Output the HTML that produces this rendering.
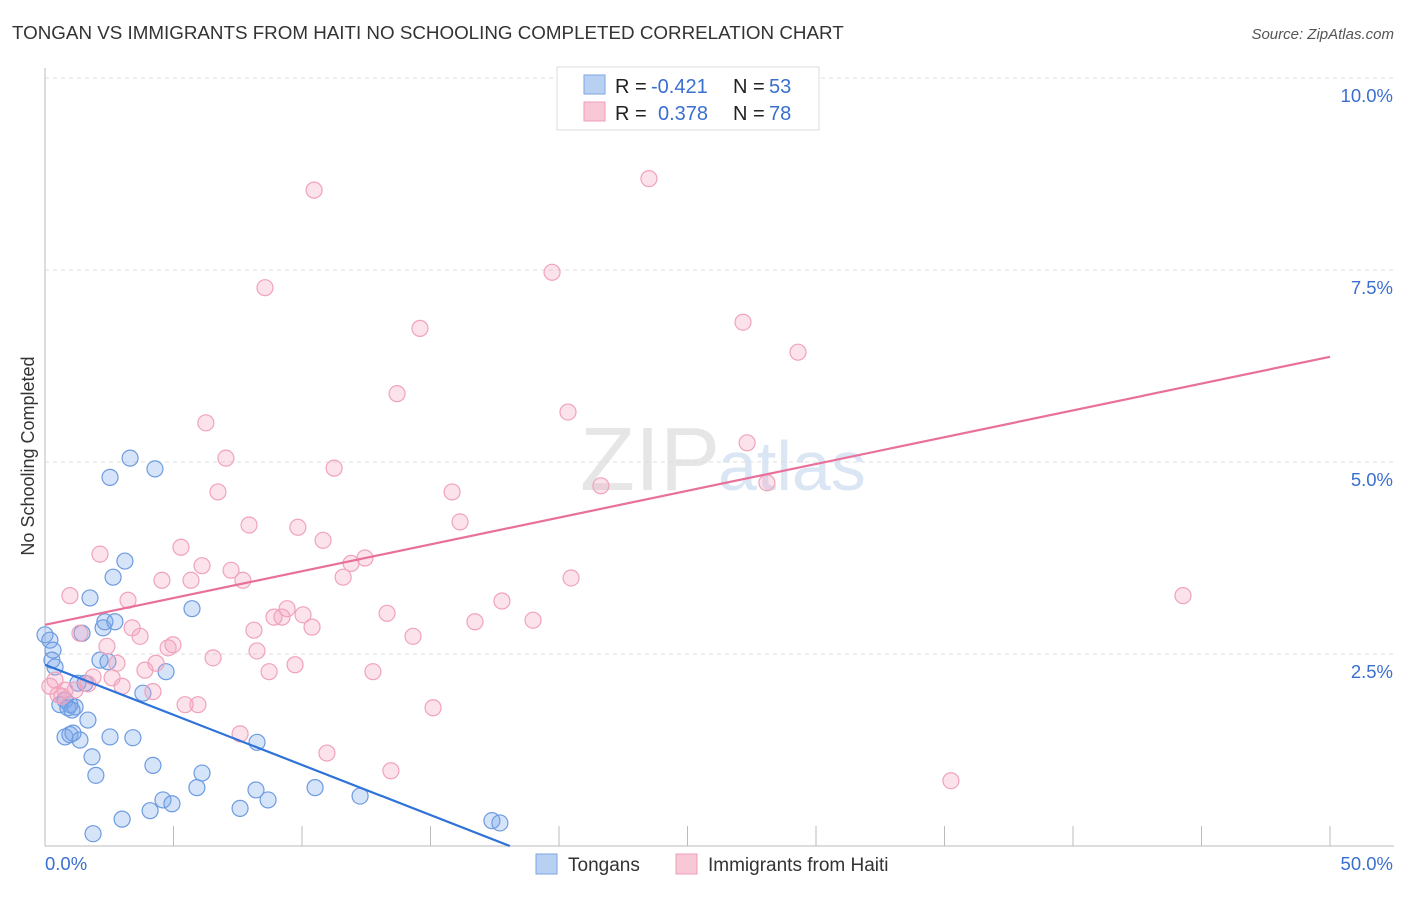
<!DOCTYPE html>
<html><head><meta charset="utf-8"><style>
body{margin:0;background:#fff;font-family:"Liberation Sans",sans-serif;}
svg text{font-family:"Liberation Sans",sans-serif;}
</style></head><body>
<svg width="1406" height="892">
<text x="12" y="39" font-size="18.8" fill="#333">TONGAN VS IMMIGRANTS FROM HAITI NO SCHOOLING COMPLETED CORRELATION CHART</text>
<text x="1394" y="39" font-size="15" fill="#555" text-anchor="end" font-style="italic">Source: ZipAtlas.com</text>
<text x="720" y="490" font-size="90" fill="#e6e6e6" text-anchor="end" font-family="Liberation Serif">ZIP</text>
<text x="718" y="490" font-size="70" fill="#dbe6f5">atlas</text>
<g id="grid"></g>
<g id="axes"></g>
<text transform="translate(34,456) rotate(-90)" font-size="18" fill="#333" text-anchor="middle">No Schooling Completed</text>
<g id="marks"></g>
<g>
<rect x="557" y="67" width="262" height="63" fill="#fff" stroke="#ddd"/>
<rect x="584" y="75" width="21" height="19" fill="#b8d0f2" stroke="#7ea6e2"/>
<rect x="584" y="102" width="21" height="19" fill="#f8c8d6" stroke="#ef9db6"/>
<text x="615" y="93" font-size="20" fill="#222">R =</text>
<text x="651" y="93" font-size="20" fill="#3a6fd0">-0.421</text>
<text x="733" y="93" font-size="20" fill="#222">N =</text>
<text x="769" y="93" font-size="20" fill="#3a6fd0">53</text>
<text x="615" y="120" font-size="20" fill="#222">R =</text>
<text x="658" y="120" font-size="20" fill="#3a6fd0">0.378</text>
<text x="733" y="120" font-size="20" fill="#222">N =</text>
<text x="769" y="120" font-size="20" fill="#3a6fd0">78</text>
</g>
<g>
<rect x="536" y="854" width="21" height="20" fill="#b8d0f2" stroke="#7ea6e2"/>
<text x="568" y="871" font-size="19" fill="#333">Tongans</text>
<rect x="676" y="854" width="21" height="20" fill="#f8c8d6" stroke="#ef9db6"/>
<text x="708" y="871" font-size="19" fill="#333">Immigrants from Haiti</text>
</g>
</svg>
<script>
const yTicks=[2.5,5.0,7.5,10.0];
const yTickLabels=["2.5%","5.0%","7.5%","10.0%"];
const xTickCount=10;
const blueX=[0,0.19,0.31,0.27,0.39,0.58,0.78,0.97,0.89,1.17,1.05,1.28,1.56,1.67,0.78,0.97,1.36,1.83,1.98,1.75,2.14,2.26,2.33,2.45,2.72,2.65,3.11,2.53,3.31,4.28,2.53,3.42,3.81,4.20,4.71,5.72,4.59,4.94,5.91,6.11,7.59,8.25,8.21,8.68,10.51,12.26,1.87,3.00,4.09,17.39,17.70,1.44,1.09];
const blueY=[2.75,2.68,2.55,2.42,2.33,1.84,1.90,1.84,1.80,1.81,1.77,2.12,2.12,1.64,1.42,1.45,1.38,1.16,0.92,3.23,2.42,2.84,2.92,2.40,2.92,3.50,3.71,4.80,5.05,4.91,1.42,1.41,1.99,1.05,2.27,3.09,0.60,0.55,0.76,0.95,0.49,1.35,0.73,0.60,0.76,0.65,0.16,0.35,0.46,0.33,0.30,2.77,1.47];
const pinkX=[10.47,23.50,8.56,19.73,14.59,27.16,29.30,13.70,20.35,6.26,27.32,7.04,11.25,6.73,21.63,15.84,28.09,16.15,7.94,9.84,10.82,5.29,2.14,12.45,11.91,11.60,20.47,6.11,7.24,4.55,5.68,7.70,44.28,0.97,3.23,9.42,10.04,8.91,9.22,13.31,17.78,18.99,16.73,10.39,3.39,8.13,14.32,1.36,3.70,4.98,2.41,4.79,8.25,6.54,9.73,4.32,2.80,3.89,8.72,12.76,1.87,0.39,0.19,2.61,3.00,1.67,4.20,0.78,0.66,5.45,5.95,15.10,7.59,10.97,13.46,35.25,0.51,1.17];
const pinkY=[8.54,8.69,7.27,7.47,6.74,6.82,6.43,5.89,5.65,5.51,5.25,5.05,4.92,4.61,4.69,4.61,4.73,4.22,4.18,4.15,3.98,3.89,3.80,3.75,3.68,3.50,3.49,3.65,3.59,3.46,3.46,3.46,3.26,3.26,3.20,3.09,3.01,2.98,2.98,3.03,3.19,2.94,2.92,2.85,2.84,2.81,2.73,2.77,2.73,2.62,2.60,2.58,2.54,2.45,2.36,2.38,2.38,2.29,2.27,2.27,2.20,2.16,2.08,2.19,2.08,2.11,2.01,2.03,1.95,1.84,1.84,1.80,1.46,1.21,0.98,0.85,1.97,2.03];
const blueLine=[[0,2.36],[18.09,0]];
const pinkLine=[[0,2.88],[50,6.37]];
const NS="http://www.w3.org/2000/svg";
const sx=v=>45+v/50*1285;
const sy=v=>846-v/2.5*192;
function mk(tag,parent,attrs){const e=document.createElementNS(NS,tag);for(const k in attrs)e.setAttribute(k,attrs[k]);document.getElementById(parent).appendChild(e);return e;}
yTicks.forEach((t,i)=>{
 const g=mk('line','grid',{x1:45,x2:1394,y1:sy(t),y2:sy(t),stroke:'#ddd','stroke-dasharray':'4,4'});
 
 
 const l=mk('text','axes',{x:1393,y:sy(t)+24,'font-size':18.5,fill:'#3a6fd0','text-anchor':'end'});
 l.textContent=yTickLabels[i];
 
 
});
const ya=mk('line','axes',{x1:45,x2:45,y1:68,y2:846,stroke:'#bbb'});


const xa=mk('line','axes',{x1:45,x2:1394,y1:846,y2:846,stroke:'#bbb'});


for(let i=0;i<=xTickCount;i++){
 const t=mk('line','axes',{x1:sx(i*5),x2:sx(i*5),y1:826,y2:846,stroke:'#bbb'});
 
 
}
const x0=mk('text','axes',{x:45,y:870,'font-size':18.5,fill:'#3a6fd0'});x0.textContent='0.0%';


const x1=mk('text','axes',{x:1393,y:870,'font-size':18.5,fill:'#3a6fd0','text-anchor':'end'});x1.textContent='50.0%';


blueX.forEach((v,i)=>{
 const c=mk('circle','marks',{cx:sx(v),cy:sy(blueY[i]),r:8,fill:'rgba(120,165,235,0.3)',stroke:'#6d9be0','stroke-width':1.2});
 
 
});
pinkX.forEach((v,i)=>{
 const c=mk('circle','marks',{cx:sx(v),cy:sy(pinkY[i]),r:8,fill:'rgba(245,160,190,0.3)',stroke:'#f0a3bb','stroke-width':1.2});
 
 
});
const bl=mk('line','marks',{x1:sx(blueLine[0][0]),y1:sy(blueLine[0][1]),x2:sx(blueLine[1][0]),y2:sy(blueLine[1][1]),stroke:'#2f72d8','stroke-width':2.2});


const pl=mk('line','marks',{x1:sx(pinkLine[0][0]),y1:sy(pinkLine[0][1]),x2:sx(pinkLine[1][0]),y2:sy(pinkLine[1][1]),stroke:'#e8709a','stroke-width':2.2});


</script>
</body></html>
